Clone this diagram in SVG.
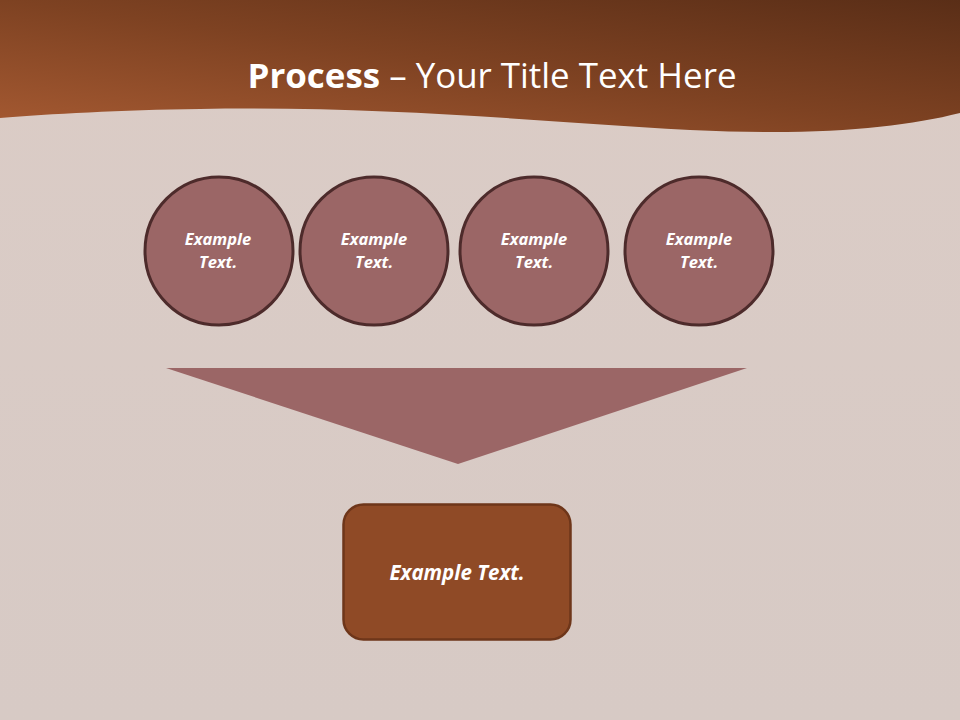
<svg xmlns="http://www.w3.org/2000/svg" width="960" height="720" viewBox="0 0 960 720">
  <defs>
    <linearGradient id="hdr" x1="0" y1="1" x2="1" y2="0">
      <stop offset="0" stop-color="#a65a32"/>
      <stop offset="0.5" stop-color="#7e4222"/>
      <stop offset="1" stop-color="#5a2e17"/>
    </linearGradient>
    <linearGradient id="bg" x1="0" y1="0" x2="0" y2="1">
      <stop offset="0" stop-color="#dbccc6"/>
      <stop offset="1" stop-color="#d7cac5"/>
    </linearGradient>
  </defs>
  <style>
    .circ { fill: #9b6666; stroke: #4d2b2b; stroke-width: 3; }
    .ctext { font-family: "Open Sans", "Liberation Sans", sans-serif; font-size: 16.5px; font-weight: bold; font-style: italic; fill: #ffffff; text-anchor: middle; }
    .btext { font-family: "Open Sans", "Liberation Sans", sans-serif; font-size: 20.5px; font-weight: bold; font-style: italic; fill: #ffffff; text-anchor: middle; }
    .title { font-family: "Open Sans", "Liberation Sans", sans-serif; font-size: 34px; fill: #ffffff; text-anchor: middle; }
  </style>
  <rect x="0" y="0" width="960" height="720" fill="url(#bg)"/>
  <path d="M0,0 H960 V113 C900,128 820,136 690,130 C520,120 380,106 200,109 C120,110 50,114 0,118 Z" fill="url(#hdr)"/>
  <text class="title" x="492" y="88" textLength="489" lengthAdjust="spacingAndGlyphs"><tspan font-weight="bold">Process</tspan> – Your Title Text Here</text>

  <g id="node1">
    <circle class="circ" cx="219" cy="251" r="74"/>
    <text class="ctext" x="218" y="245">Example</text>
    <text class="ctext" x="218" y="268">Text.</text>
  </g>
  <g id="node2">
    <circle class="circ" cx="374" cy="251" r="74"/>
    <text class="ctext" x="374" y="245">Example</text>
    <text class="ctext" x="374" y="268">Text.</text>
  </g>
  <g id="node3">
    <circle class="circ" cx="534" cy="251" r="74"/>
    <text class="ctext" x="534" y="245">Example</text>
    <text class="ctext" x="534" y="268">Text.</text>
  </g>
  <g id="node4">
    <circle class="circ" cx="699" cy="251" r="74"/>
    <text class="ctext" x="699" y="245">Example</text>
    <text class="ctext" x="699" y="268">Text.</text>
  </g>

  <g id="connectors">
    <polygon points="166,368 747,368 458,464" fill="#9b6666"/>
  </g>

  <g id="result">
    <rect x="343.5" y="504.5" width="227" height="135" rx="20" ry="20" fill="#8f4a26" stroke="#6e361a" stroke-width="2.5"/>
    <text class="btext" x="457" y="580">Example Text.</text>
  </g>
</svg>
